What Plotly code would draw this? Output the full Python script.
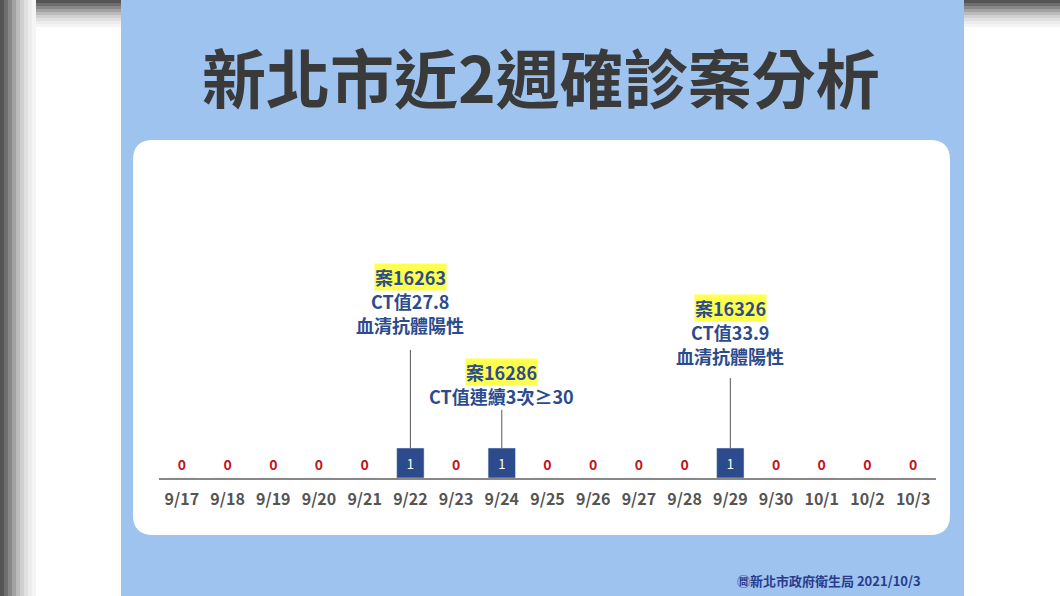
import plotly.graph_objects as go

dates = ["9/17", "9/18", "9/19", "9/20", "9/21", "9/22", "9/23", "9/24", "9/25",
         "9/26", "9/27", "9/28", "9/29", "9/30", "10/1", "10/2", "10/3"]
cases = [0, 0, 0, 0, 0, 1, 0, 1, 0, 0, 0, 0, 1, 0, 0, 0, 0]

# (date, case id, detail lines, top of callout line, y of case id) in case units
notes = [
    ("9/22", "案16263", ["CT值27.8", "血清抗體陽性"], 4.27, 6.7),
    ("9/24", "案16286", ["CT值連續3次≥30"], 2.27, 3.53),
    ("9/29", "案16326", ["CT值33.9", "血清抗體陽性"], 3.33, 5.67),
]

W, H = 1060, 596
FONT = "Noto Sans CJK TC"
BLUE = "#2b4b8c"
PX = 30.0  # pixels per case on the y axis


def py(p):
    return 1 - p / H


def px(p):
    return p / W


fig = go.Figure()
fig.add_trace(go.Bar(
    x=dates, y=cases, width=0.6, marker_color=BLUE,
    text=[str(v) if v else "" for v in cases], textposition="inside",
    insidetextanchor="middle", textangle=0,
    textfont=dict(color="white", size=13, family=FONT),
))
fig.add_trace(go.Scatter(
    x=[d for d, v in zip(dates, cases) if v == 0],
    y=[0.4] * cases.count(0), mode="text",
    text=["<b>0</b>"] * cases.count(0),
    textfont=dict(color="#c0141c", size=14, family=FONT),
))

shapes = []
# dark fade at the outer edges of the photo
greys = ["#555555", "#6e6e6e", "#888888", "#a2a2a2", "#bbbbbb", "#d0d0d0",
         "#e0e0e0", "#ececec", "#f5f5f5"]
for i, c in enumerate(greys):
    shapes.append(dict(type="rect", xref="paper", yref="paper", x0=px(i * 4), x1=px(i * 4 + 4),
                       y0=0, y1=1, fillcolor=c, line_width=0, layer="below"))
    shapes.append(dict(type="rect", xref="paper", yref="paper", x0=px(i * 4 + 4), x1=1,
                       y0=py(i * 3 + 3), y1=py(i * 3), fillcolor=c, line_width=0,
                       layer="below"))
shapes += [
    dict(type="rect", xref="paper", yref="paper", x0=px(121), x1=px(964), y0=0, y1=1,
         fillcolor="#9dc3ee", line_width=0, layer="below"),
    dict(type="path", xref="paper", yref="paper", layer="below", line_width=0,
         fillcolor="white",
         path=(f"M {px(153)},{py(140)} L {px(930)},{py(140)} "
               f"Q {px(950)},{py(140)} {px(950)},{py(160)} L {px(950)},{py(515)} "
               f"Q {px(950)},{py(535)} {px(930)},{py(535)} L {px(153)},{py(535)} "
               f"Q {px(133)},{py(535)} {px(133)},{py(515)} L {px(133)},{py(160)} "
               f"Q {px(133)},{py(140)} {px(153)},{py(140)} Z")),
]

annotations = [
    dict(text="<b>新北市近2週確診案分析</b>", xref="paper", yref="paper",
         x=px(541), y=py(75), yanchor="middle", showarrow=False,
         font=dict(size=64, color="#3a3a3a", family=FONT)),
    dict(text="<b>㉄新北市政府衛生局 2021/10/3</b>", xref="paper", yref="paper",
         x=px(923), y=py(580), xanchor="right", yanchor="middle", showarrow=False,
         font=dict(size=13, color="#2b3b8c", family=FONT)),
]

for d, case, lines, line_top, text_y in notes:
    shapes.append(dict(type="line", xref="x", yref="y", x0=d, x1=d, y0=1, y1=line_top,
                       line=dict(color="#555", width=1)))
    annotations.append(dict(text=f"<b>{case}</b>", x=d, y=text_y, yanchor="middle",
                            showarrow=False, bgcolor="#ffff4d", borderpad=0,
                            font=dict(size=18, color=BLUE, family=FONT)))
    for i, ln in enumerate(lines):
        annotations.append(dict(text=f"<b>{ln}</b>", x=d, y=text_y - 0.8 * (i + 1),
                                yanchor="middle", showarrow=False,
                                font=dict(size=18, color=BLUE, family=FONT)))

fig.update_layout(
    width=W, height=H, margin=dict(l=0, r=0, t=0, b=0),
    paper_bgcolor="white", plot_bgcolor="rgba(0,0,0,0)",
    showlegend=False, shapes=shapes, annotations=annotations, bargap=0.4,
    xaxis=dict(domain=[px(159), px(936)], range=[-0.5, 16.5], showgrid=False,
               showline=True, linecolor="#888", linewidth=2, ticks="",
               ticklabelstandoff=6, tickfont=dict(size=16, color="#555", family=FONT)),
    yaxis=dict(domain=[py(478), py(140)], range=[0, 338 / PX], visible=False),
)
fig.update_xaxes(tickvals=dates, ticktext=[f"<b>{d}</b>" for d in dates])
fig.write_html("out.html", config={"displayModeBar": False},
               post_script="document.body.style.margin='0';")
